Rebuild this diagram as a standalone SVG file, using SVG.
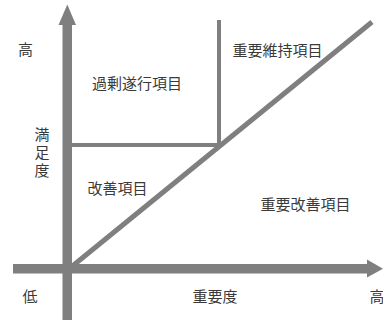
<svg xmlns="http://www.w3.org/2000/svg" width="383" height="320" viewBox="0 0 383 320">
<style>
.ln{stroke:#7f7f7f;fill:none}
.ax{fill:#7f7f7f}
text{font-family:"Noto Sans CJK JP","Noto Sans CJK SC",sans-serif;font-size:15px;fill:#3a3a3a}
.m{text-anchor:middle}
.v{writing-mode:vertical-rl;text-anchor:middle;letter-spacing:3px}
</style>
<rect width="383" height="320" fill="#ffffff"/>
<g id="connectors">
<line class="ln" x1="70" y1="268" x2="372" y2="22" stroke-width="5"/>
<line class="ln" x1="72" y1="145" x2="221" y2="145" stroke-width="4"/>
<line class="ln" x1="219" y1="20" x2="219" y2="147" stroke-width="4"/>
</g>
<g id="y-axis">
<rect class="ax" x="62.5" y="24" width="9.5" height="296"/>
<polygon class="ax" points="58.5,25 67.3,4.5 76,25"/>
</g>
<g id="x-axis">
<rect class="ax" x="13" y="264" width="355" height="9.5"/>
<polygon class="ax" points="367,259.5 383,268.7 367,277.5"/>
</g>
<g id="label-high-y"><text class="m" x="25.5" y="54.5">高</text></g>
<g id="label-satisfaction"><text class="v" x="42" y="153.5">満足度</text></g>
<g id="label-low"><text class="m" x="30" y="301.5">低</text></g>
<g id="label-importance"><text class="m" x="215" y="301.5">重要度</text></g>
<g id="label-high-x"><text x="369.5" y="301.5">高</text></g>
<g id="q-excess"><text class="m" x="137" y="89">過剰遂行項目</text></g>
<g id="q-maintain"><text class="m" x="277.5" y="55.5">重要維持項目</text></g>
<g id="q-improve"><text class="m" x="117.5" y="193.5">改善項目</text></g>
<g id="q-key-improve"><text class="m" x="305.5" y="209.5">重要改善項目</text></g>
</svg>
